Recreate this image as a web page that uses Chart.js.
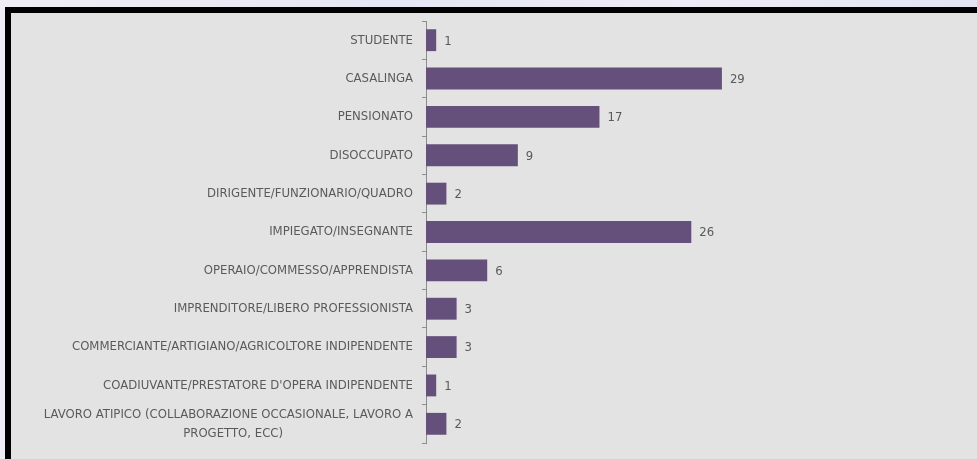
<!DOCTYPE html>
<html>
<head>
<meta charset="utf-8">
<script src="https://cdn.jsdelivr.net/npm/chart.js@4.4.1/dist/chart.umd.min.js"></script>
<style>
  html, body { margin: 0; padding: 0; }
  body { width: 977px; height: 459px; overflow: hidden; position: relative;
         background: linear-gradient(90deg, #efeef6 0%, #e6e5f3 40%, #ecebf6 70%, #e4e3f2 100%); }
  #frame { position: absolute; left: 5px; top: 7px; width: 966px; height: 446px;
           border-top: 6px solid #000; border-left: 6px solid #000; background: #e3e3e3; }
  #wrap { position: absolute; left: 0; top: 0; width: 966px; height: 446px; }
</style>
</head>
<body>
<div id="frame"><div id="wrap"><canvas id="c"></canvas></div></div>
<script>
const categories = [
  "STUDENTE",
  "CASALINGA",
  "PENSIONATO",
  "DISOCCUPATO",
  "DIRIGENTE/FUNZIONARIO/QUADRO",
  "IMPIEGATO/INSEGNANTE",
  "OPERAIO/COMMESSO/APPRENDISTA",
  "IMPRENDITORE/LIBERO PROFESSIONISTA",
  "COMMERCIANTE/ARTIGIANO/AGRICOLTORE INDIPENDENTE",
  "COADIUVANTE/PRESTATORE D'OPERA INDIPENDENTE",
  ["LAVORO ATIPICO (COLLABORAZIONE OCCASIONALE, LAVORO A", "PROGETTO, ECC)" + "\u00a0".repeat(35)]
];
const values = [1, 29, 17, 9, 2, 26, 6, 3, 3, 1, 2];

const FONT = "'Liberation Sans Narrow', 'Arial Narrow', 'DejaVu Sans Condensed', sans-serif";

const valueLabels = {
  id: 'valueLabels',
  afterDatasetsDraw(chart) {
    const ctx = chart.ctx;
    const meta = chart.getDatasetMeta(0);
    ctx.save();
    ctx.font = "13px " + FONT;
    ctx.fillStyle = '#5a5a5a';
    ctx.textBaseline = 'middle';
    ctx.textAlign = 'left';
    meta.data.forEach((bar, i) => {
      ctx.fillText(String(chart.data.datasets[0].data[i]), bar.x + 8, bar.y + 1);
    });
    ctx.restore();
  }
};

new Chart(document.getElementById('c'), {
  type: 'bar',
  data: {
    labels: categories,
    datasets: [{
      data: values,
      backgroundColor: '#654f7b',
      borderWidth: 0,
      barPercentage: 0.57,
      categoryPercentage: 1.0
    }]
  },
  options: {
    indexAxis: 'y',
    responsive: true,
    maintainAspectRatio: false,
    animation: false,
    layout: { padding: { top: 8, bottom: 16, left: 0, right: 0 } },
    plugins: { legend: { display: false }, tooltip: { enabled: false } },
    scales: {
      x: { display: false, min: 0, max: 54 },
      y: {
        afterFit(scale) { scale.width = 415; scale.paddingTop = 0; scale.paddingBottom = 0; },
        border: { display: true, color: '#8c8c8c', width: 1 },
        grid: { display: true, drawOnChartArea: false, drawTicks: true, tickLength: 4, color: '#8c8c8c' },
        ticks: {
          color: '#5a5a5a',
          padding: 9,
          autoSkip: false,
          font: { family: FONT, size: 13, lineHeight: 1.45 }
        }
      }
    }
  },
  plugins: [valueLabels]
});
</script>
</body>
</html>
